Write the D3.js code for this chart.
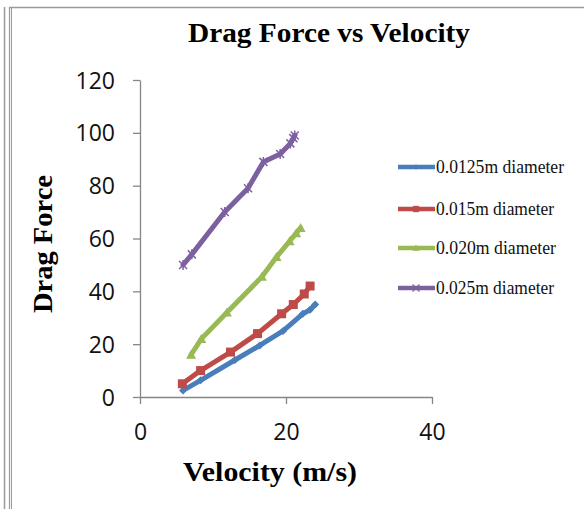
<!DOCTYPE html>
<html>
<head>
<meta charset="utf-8">
<script src="https://cdn.jsdelivr.net/npm/d3@7"></script>
<style>
  html, body { margin: 0; padding: 0; background: #fff; }
  svg { display: block; }
</style>
</head>
<body>
<svg id="chart" width="584" height="509"></svg>
<script>
// Drag force measured at several velocities for four sphere diameters
const seriesNames = ["0.0125m diameter", "0.015m diameter", "0.020m diameter", "0.025m diameter"];
const seriesColors = ["#4a7ebb", "#be4b48", "#98b954", "#7d60a0"];

const velocity0125 = [5.9, 8.3, 13.0, 16.4, 19.6, 22.3, 23.3, 24.0];
const force0125    = [2.5, 6.3, 14.0, 19.5, 25.0, 31.5, 33.0, 35.0];

const velocity015 = [5.8, 8.3, 12.4, 16.1, 19.4, 21.0, 22.5, 23.3];
const force015    = [5.0, 10.0, 17.0, 24.0, 31.5, 35.0, 39.0, 42.0];

const velocity020 = [7.0, 8.4, 11.9, 16.7, 18.7, 20.5, 21.4, 22.0];
const force020    = [16.0, 22.0, 32.0, 45.5, 53.0, 59.0, 62.0, 64.0];

const velocity025 = [5.9, 7.1, 11.6, 14.8, 16.9, 19.2, 20.6, 21.0, 21.2];
const force025    = [50.0, 54.0, 70.0, 79.0, 89.0, 92.0, 96.0, 98.0, 99.0];

const xTicks = [0, 20, 40];
const yTicks = [0, 20, 40, 60, 80, 100, 120];

const series = [
  { name: seriesNames[0], color: seriesColors[0], marker: "diamond",  v: velocity0125, f: force0125 },
  { name: seriesNames[1], color: seriesColors[1], marker: "square",   v: velocity015,  f: force015 },
  { name: seriesNames[2], color: seriesColors[2], marker: "triangle", v: velocity020,  f: force020 },
  { name: seriesNames[3], color: seriesColors[3], marker: "star",     v: velocity025,  f: force025 }
];

const svg = d3.select("#chart");

// page frame lines
const frame = svg.append("g").attr("stroke", "#9a9a9a").attr("fill", "none");
frame.append("line").attr("x1", 4.5).attr("x2", 4.5).attr("y1", 7).attr("y2", 509).attr("stroke-width", 1.5);
frame.append("line").attr("x1", 9.5).attr("x2", 9.5).attr("y1", 7).attr("y2", 509).attr("stroke-width", 1.2);
frame.append("line").attr("x1", 11.5).attr("x2", 11.5).attr("y1", 7).attr("y2", 509).attr("stroke-width", 1);
frame.append("line").attr("x1", 9).attr("x2", 584).attr("y1", 7.5).attr("y2", 7.5).attr("stroke-width", 1.5);

const x = d3.scaleLinear().domain([0, 40]).range([140, 432]);
const y = d3.scaleLinear().domain([0, 120]).range([397, 80]);

// axes
const xAxis = svg.append("g")
  .attr("transform", `translate(0,${y(0)})`)
  .call(d3.axisBottom(x).tickValues(xTicks).tickSize(7).tickSizeOuter(0).tickPadding(28));
const yAxis = svg.append("g")
  .attr("transform", `translate(${x(0)},0)`)
  .call(d3.axisLeft(y).tickValues(yTicks).tickSize(7).tickSizeOuter(0).tickPadding(18));

[xAxis, yAxis].forEach(a => {
  a.select(".domain").attr("stroke", "#868686").attr("stroke-width", 1.3);
  a.selectAll(".tick line").attr("stroke", "#868686").attr("stroke-width", 1.3);
  a.selectAll(".tick text")
    .attr("fill", "#111")
    .style("font-family", "'Open Sans', sans-serif")
    .style("font-size", "23px");
});
xAxis.selectAll(".tick text").attr("dy", "0.35em");
yAxis.selectAll(".tick text").attr("dy", "0.35em");

// marker shapes
function markerPath(type, cx, cy) {
  switch (type) {
    case "diamond":
      return `M${cx},${cy - 4}L${cx + 4},${cy}L${cx},${cy + 4}L${cx - 4},${cy}Z`;
    case "square":
      return `M${cx - 4.5},${cy - 4.5}h9v9h-9Z`;
    case "triangle":
      return `M${cx},${cy - 5}L${cx + 5},${cy + 4}L${cx - 5},${cy + 4}Z`;
    default:
      return "";
  }
}

const line = d3.line().x(d => x(d[0])).y(d => y(d[1]));

series.forEach(s => {
  const pts = s.v.map((v, i) => [v, s.f[i]]);
  const g = svg.append("g");
  g.append("path")
    .datum(pts)
    .attr("d", line)
    .attr("fill", "none")
    .attr("stroke", s.color)
    .attr("stroke-width", 5)
    .attr("stroke-linejoin", "round")
    .attr("stroke-linecap", "round");
  if (s.marker === "star") {
    pts.forEach(p => {
      const cx = x(p[0]), cy = y(p[1]);
      g.append("path")
        .attr("d", `M${cx - 4},${cy - 4}L${cx + 4},${cy + 4}M${cx - 4},${cy + 4}L${cx + 4},${cy - 4}M${cx},${cy - 5}V${cy + 5}`)
        .attr("stroke", s.color).attr("stroke-width", 1.5).attr("fill", "none");
    });
  } else {
    g.selectAll("path.mk").data(pts).enter().append("path")
      .attr("class", "mk")
      .attr("d", p => markerPath(s.marker, x(p[0]), y(p[1])))
      .attr("fill", s.color);
  }
});

// legend
const legendY = [167, 209, 248, 288];
const legendLen = [128, 118, 120, 118];
const legend = svg.append("g");
series.forEach((s, i) => {
  const ly = legendY[i];
  legend.append("line")
    .attr("x1", 398).attr("x2", 435).attr("y1", ly).attr("y2", ly)
    .attr("stroke", s.color).attr("stroke-width", 4.5);
  if (s.marker === "star") {
    legend.append("path")
      .attr("d", `M${412.5},${ly - 3.5}L${419.5},${ly + 3.5}M${412.5},${ly + 3.5}L${419.5},${ly - 3.5}`)
      .attr("stroke", s.color).attr("stroke-width", 1.2);
  } else {
    legend.append("path").attr("d", markerPath(s.marker, 416, ly)).attr("fill", s.color)
      .attr("transform", `translate(${416 * 0.3},${ly * 0.3}) scale(0.7)`);
  }
  legend.append("text")
    .attr("x", 436).attr("y", ly)
    .attr("dy", "0.35em")
    .attr("textLength", legendLen[i])
    .attr("lengthAdjust", "spacingAndGlyphs")
    .style("font-family", "'Liberation Serif', 'Times New Roman', serif")
    .style("font-size", "18px")
    .attr("fill", "#111")
    .text(s.name);
});

// titles
const titleStyle = sel => sel
  .attr("text-anchor", "middle")
  .style("font-family", "'Liberation Serif', 'Times New Roman', serif")
  .style("font-weight", "bold").style("font-size", "27px")
  .attr("lengthAdjust", "spacingAndGlyphs")
  .attr("fill", "#000");

svg.append("text")
  .attr("x", 329).attr("y", 42)
  .attr("textLength", 282)
  .call(titleStyle)
  .text("Drag Force vs Velocity");

svg.append("text")
  .attr("x", 270).attr("y", 481)
  .attr("textLength", 174)
  .call(titleStyle)
  .text("Velocity (m/s)");

svg.append("text")
  .attr("transform", "translate(52,244) rotate(-90)")
  .attr("textLength", 138)
  .call(titleStyle)
  .text("Drag Force");
</script>
</body>
</html>
